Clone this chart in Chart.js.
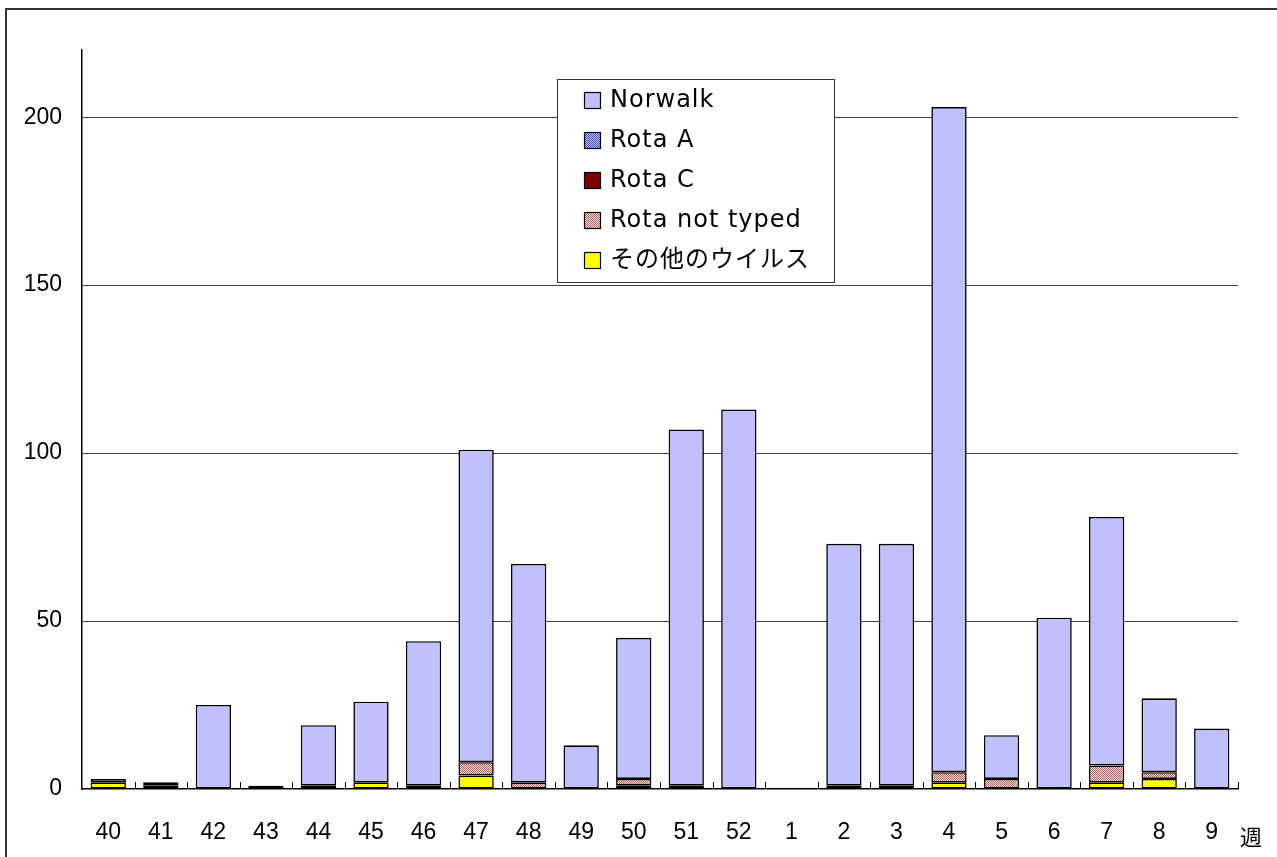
<!DOCTYPE html>
<html>
<head>
<meta charset="utf-8">
<script src="https://cdn.jsdelivr.net/npm/chart.js@4.4.0/dist/chart.umd.min.js"></script>
<style>
  html, body { margin: 0; padding: 0; background: #fff; overflow: hidden; }
</style>
</head>
<body>
<canvas id="chart-weekly" width="1277" height="857"></canvas>
<script>
// weekly counts
const weeks = ['40','41','42','43','44','45','46','47','48','49','50','51','52','1','2','3','4','5','6','7','8','9'];
const norwalk      = [1,1,25,1,18,24,43,93,65,13,42,106,113,0,72,72,198,13,51,74,22,18];
const rotaA        = [0,0,0,0,0,0,0,0,0,0,0,0,0,0,0,0,0,0,0,0,0,0];
const rotaC        = [0,0,0,0,0,0,0,0,0,0,0,0,0,0,0,0,0,0,0,0,0,0];
const rotaNotTyped = [0,1,0,0,0,0,0,4,2,0,2,0,0,0,1,1,3,3,0,5,2,0];
const otherVirus   = [2,0,0,0,1,2,1,4,0,0,1,1,0,0,0,0,2,0,0,2,3,0];
const yTicks = [0, 50, 100, 150, 200];

function makePattern(fg, bg) {
  const c = document.createElement('canvas');
  c.width = 2; c.height = 2;
  const x = c.getContext('2d');
  x.fillStyle = bg; x.fillRect(0, 0, 2, 2);
  x.fillStyle = fg; x.fillRect(0, 0, 1, 1); x.fillRect(1, 1, 1, 1);
  return x.createPattern(c, 'repeat');
}

const numFont = '"Liberation Sans", Arial, sans-serif';
const legFont = '"DejaVu Sans", "Noto Sans CJK JP", sans-serif';

function ds(label, data, color) {
  return {
    label: label,
    data: data.map(v => v || null),
    backgroundColor: color,
    borderColor: '#000',
    borderWidth: 1.6,
    borderSkipped: false,
    barPercentage: 0.672,
    categoryPercentage: 1
  };
}

// stacked bottom to top
const datasets = [
  ds('その他のウイルス', otherVirus, '#FFFF00'),
  ds('Rota not typed', rotaNotTyped, makePattern('#C06060', '#F6DCDC')),
  ds('Rota C', rotaC, '#800000'),
  ds('Rota A', rotaA, makePattern('#5050E0', '#B8B8FF')),
  ds('Norwalk', norwalk, '#C0C0FF')
];

const extras = {
  id: 'extras',
  beforeDraw(chart) {
    const c = chart.ctx;
    c.save();
    c.strokeStyle = '#333';
    c.lineWidth = 2;
    c.strokeRect(6, 9, 1400, 1000);
    c.restore();
  },
  afterDraw(chart) {
    const c = chart.ctx;
    const a = chart.chartArea;
    const n = weeks.length;
    c.save();
    // inner tick marks between categories
    c.strokeStyle = '#000';
    c.lineWidth = 1;
    for (let i = 1; i <= n; i++) {
      const x = Math.round(a.left + i * (a.right - a.left) / n) + 0.5;
      c.beginPath();
      c.moveTo(x, a.bottom - 7);
      c.lineTo(x, a.bottom);
      c.stroke();
    }
    // axis unit
    c.fillStyle = '#000';
    c.font = '22px "Noto Sans CJK JP", sans-serif';
    c.textAlign = 'left';
    c.textBaseline = 'middle';
    c.fillText('週', 1240, 837);

    // legend box
    const bx = 557, by = 79, bw = 277, bh = 203;
    c.fillStyle = '#fff';
    c.fillRect(bx, by, bw, bh);
    c.strokeStyle = '#333';
    c.lineWidth = 1;
    c.strokeRect(bx + 0.5, by + 0.5, bw, bh);
    const order = datasets.slice().reverse();
    c.font = '24px ' + legFont;
    c.letterSpacing = '1px';
    order.forEach((d, i) => {
      const y = by + 21 + i * 40;
      c.fillStyle = d.backgroundColor;
      c.fillRect(584, y - 8, 17, 17);
      c.strokeStyle = '#000';
      c.lineWidth = 1.2;
      c.strokeRect(584.5, y - 7.5, 16, 16);
      c.fillStyle = '#000';
      c.fillText(d.label, 610, y + 1);
    });
    c.restore();
  }
};

const ctx = document.getElementById('chart-weekly').getContext('2d');
const chart = new Chart(ctx, {
  type: 'bar',
  data: { labels: weeks, datasets: datasets },
  options: {
    responsive: false,
    animation: false,
    layout: { padding: { top: 50, right: 39, left: 0, bottom: 0 } },
    plugins: { legend: { display: false }, tooltip: { enabled: false } },
    scales: {
      x: {
        stacked: true,
        grid: { display: false },
        border: { display: true, color: '#000', width: 1.5 },
        ticks: { color: '#000', font: { family: numFont, size: 23 }, padding: 22, maxRotation: 0, autoSkip: false },
        afterFit: s => { s.height = 68; }
      },
      y: {
        stacked: true,
        min: 0,
        max: 220,
        grid: {
          color: t => (yTicks.includes(t.tick.value) && t.tick.value !== 0) ? '#444' : 'transparent',
          drawTicks: false
        },
        border: { display: true, color: '#000', width: 1.5 },
        ticks: {
          stepSize: 50,
          color: '#000',
          padding: 20,
          font: { family: numFont, size: 23 },
          callback: v => yTicks.includes(v) ? v : ''
        },
        afterFit: s => { s.width = 82; }
      }
    }
  },
  plugins: [extras]
});
</script>
</body>
</html>
